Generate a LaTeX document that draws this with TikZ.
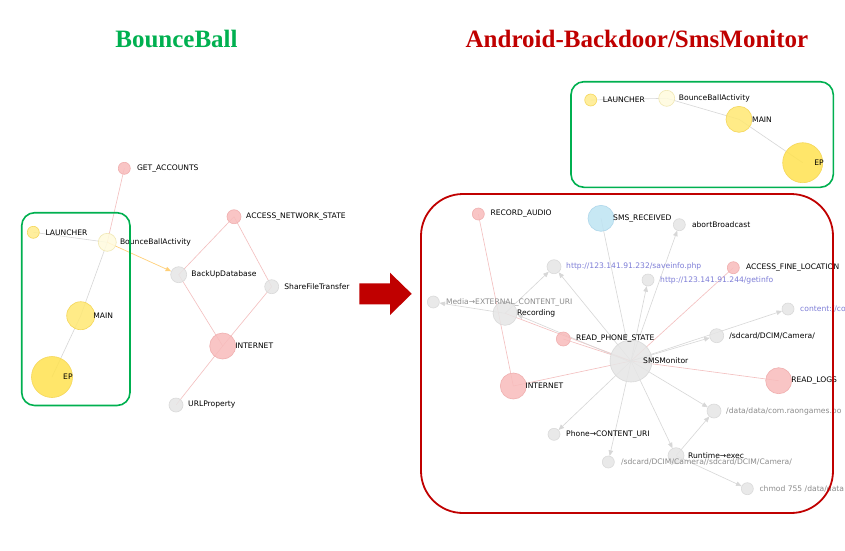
\documentclass[tikz,border=0pt]{standalone}
\usepackage{fontspec}
\usetikzlibrary{arrows.meta}
\newfontfamily\lblfam{DejaVu Sans}
\newfontfamily\titlefam{Liberation Serif}
\newcommand\lblfont{\lblfam\fontsize{7.6}{9}\selectfont}
\definecolor{ndgray}{RGB}{230,230,230}
\definecolor{ndgrayd}{RGB}{218,218,218}
\definecolor{ndpink}{RGB}{248,188,188}
\definecolor{ndpinkd}{RGB}{240,175,175}
\definecolor{ndyel}{RGB}{255,226,80}
\definecolor{ndyeld}{RGB}{245,215,90}
\definecolor{ndyelm}{RGB}{255,232,115}
\definecolor{ndyell}{RGB}{255,236,140}
\definecolor{ndpale}{RGB}{255,251,222}
\definecolor{ndpaled}{RGB}{240,232,180}
\definecolor{ndblue}{RGB}{190,228,243}
\definecolor{ndblued}{RGB}{175,215,235}
\definecolor{edgray}{RGB}{215,215,215}
\definecolor{edpink}{RGB}{243,190,190}
\definecolor{edorange}{RGB}{255,208,120}
\definecolor{txpurple}{RGB}{125,125,215}
\definecolor{txgray}{RGB}{140,140,140}
\definecolor{grn}{RGB}{0,176,80}
\definecolor{dred}{RGB}{192,0,0}
\pgfdeclarelayer{bg}
\pgfsetlayers{bg,main}
\tikzset{
  gn/.style={circle, inner sep=0pt, fill=ndgray, draw=ndgrayd, line width=0.6pt, fill opacity=0.85},
  pn/.style={gn, fill=ndpink, draw=ndpinkd},
  yn/.style={gn, fill=ndyel, draw=ndyeld},
  ymn/.style={gn, fill=ndyelm, draw=ndyeld},
  yln/.style={gn, fill=ndyell, draw=ndyeld},
  pln/.style={gn, fill=ndpale, draw=ndpaled},
  bn/.style={gn, fill=ndblue, draw=ndblued},
  lbl/.style={anchor=west, inner sep=0pt, font=\lblfont, text=black},
  plbl/.style={lbl, text=txpurple},
  glbl/.style={lbl, text=txgray},
  ge/.style={draw=edgray, line width=0.6pt},
  ga/.style={ge, -{Triangle[width=4.5pt,length=5.5pt]}},
  pe/.style={draw=edpink, line width=0.6pt},
  oa/.style={draw=edorange, line width=0.7pt, -{Triangle[width=4.5pt,length=5.5pt]}},
  ttl/.style={anchor=base, inner sep=0pt, font=\titlefam\bfseries\fontsize{25}{28}\selectfont},
  gbox/.style={draw=grn, line width=1.6pt, rounded corners=13pt},
  rbox/.style={draw=dred, line width=1.8pt, rounded corners=42pt}
}
\begin{document}
\begin{tikzpicture}[x=1pt,y=-1pt]
\useasboundingbox (0,0) rectangle (845,550);
\begin{pgfonlayer}{bg}
\fill[white] (0,0) rectangle (845,550);
\end{pgfonlayer}

% titles
\node[ttl, text=grn] (t1) at (176.5,47) {BounceBall};
\node[ttl, text=dred] (t2) at (637,47) {Android-Backdoor/SmsMonitor};

% ---------------- left graph ----------------
\node[pn, minimum size=12] (GA) at (124.3,168.3) {};
\node[yln, minimum size=12] (L1) at (33.3,232.3) {};
\node[pln, minimum size=18] (BBA1) at (107.3,242.3) {};
\node[pn, minimum size=14] (ANS) at (234,216.7) {};
\node[gn, minimum size=16] (BUD) at (178.7,274.7) {};
\node[gn, minimum size=14] (SFT) at (271.7,286.7) {};
\node[ymn, minimum size=28] (MAIN1) at (80.7,315.7) {};
\node[pn, minimum size=26] (INT1) at (222.7,346) {};
\node[yn, minimum size=41] (EP1) at (52,377) {};
\node[gn, minimum size=14] (URL) at (176,405) {};

\begin{pgfonlayer}{bg}
\draw[pe] (GA.center) -- (BBA1.center);
\draw[ge] (L1.center) -- (BBA1.center);
\draw[ge] (BBA1.center) -- (MAIN1.center);
\draw[ge] (MAIN1.center) -- (EP1.center);
\draw[oa] (BBA1.center) -- (BUD);
\draw[pe] (BUD.center) -- (ANS.center);
\draw[pe] (BUD.center) -- (INT1.center);
\draw[pe] (ANS.center) -- (SFT.center);
\draw[pe] (SFT.center) -- (INT1.center);
\draw[pe] (INT1.center) -- (URL.center);
\end{pgfonlayer}

\node[lbl] (GAl) at ([xshift=12.5]GA.center) {GET\_ACCOUNTS};
\node[lbl] (L1l) at ([xshift=12]L1.center) {LAUNCHER};
\node[lbl] (BBA1l) at ([xshift=12.5]BBA1.center) {BounceBallActivity};
\node[lbl] (ANSl) at ([xshift=12]ANS.center) {ACCESS\_NETWORK\_STATE};
\node[lbl] (BUDl) at ([xshift=12.5]BUD.center) {BackUpDatabase};
\node[lbl] (SFTl) at ([xshift=12.5]SFT.center) {ShareFileTransfer};
\node[lbl] (MAIN1l) at ([xshift=12.5]MAIN1.center) {MAIN};
\node[lbl] (INT1l) at ([xshift=12.5]INT1.center) {INTERNET};
\node[lbl] (EP1l) at ([xshift=11]EP1.center) {EP};
\node[lbl] (URLl) at ([xshift=12]URL.center) {URLProperty};

\draw[gbox] (21.7,212.7) rectangle (130,405.5);

% big red arrow
\fill[dred] (359.3,283.3) -- (390,283.3) -- (390,272.7) -- (411.7,293.8) -- (390,315) -- (390,304.3) -- (359.3,304.3) -- cycle;

% ---------------- inset ----------------
\node[yln, minimum size=12] (L2) at (590.7,100) {};
\node[pln, minimum size=16] (BBA2) at (666.7,98.3) {};
\node[ymn, minimum size=26] (MAIN2) at (739,119.3) {};
\node[yn, minimum size=40] (EP2) at (802.7,162.7) {};
\begin{pgfonlayer}{bg}
\draw[ge] (L2.center) -- (BBA2.center);
\draw[ge] (BBA2.center) -- (MAIN2.center);
\draw[ge] (MAIN2.center) -- (EP2.center);
\end{pgfonlayer}
\node[lbl] (L2l) at ([xshift=12]L2.center) {LAUNCHER};
\node[lbl] (BBA2l) at ([xshift=12]BBA2.center) {BounceBallActivity};
\node[lbl] (MAIN2l) at ([xshift=13]MAIN2.center) {MAIN};
\node[lbl] (EP2l) at ([xshift=11.5]EP2.center) {EP};
\draw[gbox] (571,81.7) rectangle (833.3,187.3);

% ---------------- right graph ----------------
\node[pn, minimum size=12] (RA) at (478.3,214) {};
\node[bn, minimum size=26] (SR) at (601,218.3) {};
\node[gn, minimum size=12] (AB) at (679.3,224.7) {};
\node[gn, minimum size=14] (SI) at (554,266.7) {};
\node[pn, minimum size=12] (AFL) at (733.3,267.7) {};
\node[gn, minimum size=12] (GI) at (648,280) {};
\node[gn, minimum size=12] (MED) at (433.3,302) {};
\node[gn, minimum size=24] (REC) at (505,313.3) {};
\node[gn, minimum size=12] (CON) at (788,309) {};
\node[gn, minimum size=14] (SDC) at (716.7,335.7) {};
\node[pn, minimum size=14] (RPS) at (563.3,339) {};
\node[gn, minimum size=42] (SMS) at (631,361) {};
\node[pn, minimum size=26] (INT2) at (513.3,386) {};
\node[pn, minimum size=26] (RL) at (778.7,380.7) {};
\node[gn, minimum size=14] (DD) at (714,411) {};
\node[gn, minimum size=12] (PCU) at (554,434.3) {};
\node[gn, minimum size=16] (RT) at (676,455.7) {};
\node[gn, minimum size=12] (SD2) at (608.3,462) {};
\node[gn, minimum size=12] (CH) at (747.3,488.7) {};

\begin{pgfonlayer}{bg}
\draw[pe] (RA.center) -- (INT2.center);
\draw[pe] (RPS.center) -- (SMS.center);
\draw[pe] (REC.center) -- (SMS.center);
\draw[pe] (INT2.center) -- (SMS.center);
\draw[pe] (RL.center) -- (SMS.center);
\draw[pe] (AFL.center) -- (SMS.center);
\draw[ga] (SR.center) -- (SMS);
\draw[ga] (SMS.center) -- (AB);
\draw[ga] (SMS.center) -- (SI);
\draw[ga] (REC.center) -- (SI);
\draw[ga] (SMS.center) -- (GI);
\draw[ga] (REC.center) -- (MED);
\draw[ga] ([yshift=-1.5]SMS.center) -- ([yshift=-1.5]REC.east);
\draw[ga] (SMS.center) -- (SDC);
\draw[ga] (SMS.center) -- (CON);
\draw[ga] (SMS.center) -- (DD);
\draw[ga] (SMS.center) -- (PCU);
\draw[ga] (SMS.center) -- (SD2);
\draw[ga] (SMS.center) -- (RT);
\draw[ga] (RT.center) -- (DD);
\draw[ga] (RT.center) -- (CH);
\end{pgfonlayer}

\node[lbl] (RAl) at ([xshift=12]RA.center) {RECORD\_AUDIO};
\node[lbl] (SRl) at ([xshift=12]SR.center) {SMS\_RECEIVED};
\node[lbl] (ABl) at ([xshift=12.5]AB.center) {abortBroadcast};
\node[plbl] (SIl) at ([xshift=12]SI.center) {http://123.141.91.232/saveinfo.php};
\node[lbl] (AFLl) at ([xshift=12.5]AFL.center) {ACCESS\_FINE\_LOCATION};
\node[plbl] (GIl) at ([xshift=12]GI.center) {http://123.141.91.244/getinfo};
\node[glbl] (MEDl) at ([xshift=12.5]MED.center) {Media→EXTERNAL\_CONTENT\_URI};
\node[lbl] (RECl) at ([xshift=12]REC.center) {Recording};
\node[plbl] (CONl) at ([xshift=12]CON.center) {content://co};
\node[lbl] (SDCl) at ([xshift=12.5]SDC.center) {/sdcard/DCIM/Camera/};
\node[lbl] (RPSl) at ([xshift=12.5]RPS.center) {READ\_PHONE\_STATE};
\node[lbl] (SMSl) at ([xshift=12]SMS.center) {SMSMonitor};
\node[lbl] (INT2l) at ([xshift=12]INT2.center) {INTERNET};
\node[lbl] (RLl) at ([xshift=12.5]RL.center) {READ\_LOGS};
\node[glbl] (DDl) at ([xshift=12]DD.center) {/data/data/com.raongames.bo};
\node[lbl] (PCUl) at ([xshift=12]PCU.center) {Phone→CONTENT\_URI};
\node[lbl] (RTl) at ([xshift=12]RT.center) {Runtime→exec};
\node[glbl] (SD2l) at ([xshift=12.5]SD2.center) {/sdcard/DCIM/Camera//sdcard/DCIM/Camera/};
\node[glbl] (CHl) at ([xshift=12]CH.center) {chmod 755 /data/data};

\draw[rbox] (421,194) rectangle (833,513);
\end{tikzpicture}
\end{document}
